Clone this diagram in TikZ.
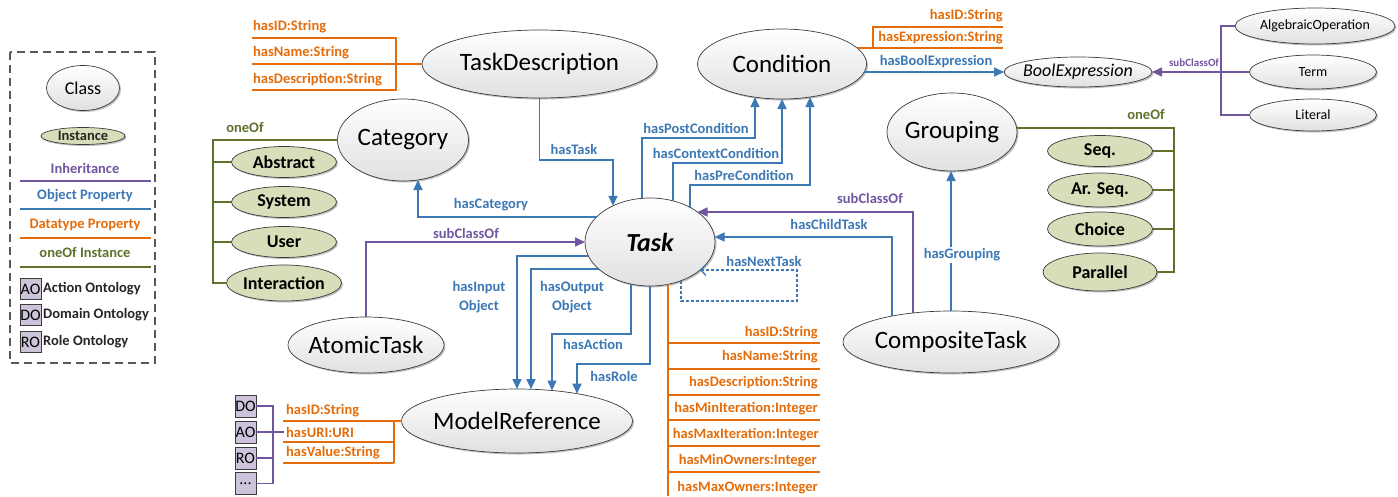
\documentclass[tikz,border=0pt]{standalone}
\usepackage{fontspec}
\setmainfont{Carlito}
\usetikzlibrary{shapes.geometric,arrows.meta,calc,shadows}
\definecolor{cBlue}{RGB}{60,120,180}
\definecolor{cOrange}{RGB}{228,108,10}
\definecolor{cPurple}{RGB}{112,86,158}
\definecolor{cGreen}{RGB}{94,114,44}
\definecolor{cInst}{RGB}{215,223,186}
\definecolor{cBox}{RGB}{205,196,220}
\definecolor{cEdge}{RGB}{60,60,60}
\tikzset{
  shad/.style={drop shadow={shadow xshift=1.5pt,shadow yshift=-1.5pt,opacity=0.25,fill=black}},
  cls/.style={ellipse, draw=cEdge, line width=0.7pt, inner sep=0pt, outer sep=0pt, top color=white, bottom color=black!12, shad},
  inst/.style={ellipse, draw=cEdge, line width=0.7pt, inner sep=0pt, outer sep=0pt, fill=cInst, shad},
  clsf/.style={font=\fontsize{25}{28}\selectfont},
  smf/.style={font=\fontsize{14}{16}\selectfont},
  instf/.style={font=\bfseries\fontsize{18}{20}\selectfont},
  bl/.style={font=\bfseries\fontsize{14.5}{19}\selectfont, inner sep=0pt, align=center},
  lblB/.style={bl, text=cBlue},
  lblP/.style={bl, text=cPurple},
  lblO/.style={bl, text=cOrange},
  lblG/.style={bl, text=cGreen},
  obj/.style={draw=cBlue, line width=1.6pt, -{Triangle[length=10pt,width=9pt]}},
  inh/.style={draw=cPurple, line width=1.6pt, -{Triangle[length=10pt,width=9pt]}},
  dtp/.style={draw=cOrange, line width=1.2pt},
  oneof/.style={draw=cGreen, line width=1.6pt},
  onto/.style={draw=cPurple, line width=1.6pt},
  obox/.style={draw=cEdge, line width=0.7pt, fill=cBox, minimum width=21pt, minimum height=21pt, inner sep=0pt, font=\fontsize{16}{17}\selectfont},
}
\begin{document}
\begin{tikzpicture}[x=1pt,y=-1pt]
\useasboundingbox (0,0) rectangle (1398,496);
% ---------------- legend
\draw[draw=black!65, line width=1.3pt, dash pattern=on 8pt off 5pt] (10,52) rectangle (155,363);
\node[cls, minimum width=73pt, minimum height=45pt, label={[font=\fontsize{18}{20}\selectfont]center:Class}] (lgClass) at (83,88) {};
\node[inst, minimum width=84pt, minimum height=17pt, label={[bl, text=black!85]center:Instance}] (lgInst) at (83,136) {};
\node[lblP] (lgInh) at (85,168) {Inheritance};
\node[lblB] (lgObj) at (85,196) {Object Property};
\node[lblO] (lgDtp) at (85,225) {Datatype Property};
\node[lblG] (lgOne) at (85,253) {oneOf Instance};
\draw[cPurple, line width=1.2pt] (20,181) -- (151,181);
\draw[cBlue, line width=1.2pt] (20,209) -- (151,209);
\draw[cOrange, line width=1.2pt] (20,238) -- (151,238);
\draw[cGreen, line width=1.2pt] (20,267) -- (151,267);
\node[obox] (lgAO) at (30.5,289) {AO};
\node[obox] (lgDO) at (30.5,315) {DO};
\node[obox] (lgRO) at (30.5,342) {RO};
\node[bl, anchor=west, text=black!85] (lgAOt) at (43,289) {Action Ontology};
\node[bl, anchor=west, text=black!85] (lgDOt) at (43,315) {Domain Ontology};
\node[bl, anchor=west, text=black!85] (lgROt) at (43,342) {Role Ontology};
% ---------------- classes
\node[cls, minimum width=235pt, minimum height=68pt, label={[clsf]center:TaskDescription}] (TD) at (539.5,64) {};
\node[cls, minimum width=131pt, minimum height=82pt, label={[clsf]center:Category}] (Cat) at (403,140) {};
\node[cls, minimum width=130pt, minimum height=88pt, label={[font=\bfseries\itshape\fontsize{26}{28}\selectfont]center:Task}] (Task) at (650,242) {};
\node[cls, minimum width=169pt, minimum height=70pt, label={[clsf]center:Condition}] (Cond) at (782,64) {};
\node[cls, minimum width=148pt, minimum height=30pt, label={[font=\itshape\fontsize{18}{20}\selectfont]center:BoolExpression}] (Bool) at (1078,72) {};
\node[cls, minimum width=160pt, minimum height=36pt, label={[smf]center:AlgebraicOperation}] (Alg) at (1315,26) {};
\node[cls, minimum width=127pt, minimum height=34pt, label={[smf]center:Term}] (Term) at (1313,72) {};
\node[cls, minimum width=127pt, minimum height=32pt, label={[smf]center:Literal}] (Lit) at (1313,115) {};
\node[cls, minimum width=130pt, minimum height=78pt, label={[clsf]center:Grouping}] (Grp) at (952,132) {};
\node[cls, minimum width=156pt, minimum height=56pt, label={[clsf]center:AtomicTask}] (Atom) at (366,345) {};
\node[cls, minimum width=216pt, minimum height=62pt, label={[clsf]center:CompositeTask}] (Comp) at (951,342) {};
\node[cls, minimum width=231pt, minimum height=64pt, label={[clsf]center:ModelReference}] (MR) at (517,421) {};
% ---------------- instances
\node[inst, minimum width=105pt, minimum height=31pt, label={[instf]center:Abstract}] (Abs) at (284,162) {};
\node[inst, minimum width=105pt, minimum height=31pt, label={[instf]center:System}] (Sys) at (284,202) {};
\node[inst, minimum width=105pt, minimum height=31pt, label={[instf]center:User}] (Usr) at (284,242) {};
\node[inst, minimum width=115pt, minimum height=36pt, label={[instf]center:Interaction}] (Int) at (284,283) {};
\node[inst, minimum width=105pt, minimum height=31pt, label={[instf]center:Seq.}] (Seq) at (1100,151) {};
\node[inst, minimum width=105pt, minimum height=34pt, label={[instf]center:Ar. Seq.}] (ArS) at (1100,190) {};
\node[inst, minimum width=105pt, minimum height=34pt, label={[instf]center:Choice}] (Cho) at (1100,229) {};
\node[inst, minimum width=114pt, minimum height=38pt, label={[instf]center:Parallel}] (Par) at (1100,272) {};
% ---------------- ontology boxes
\node[obox, minimum height=22pt] (bDO) at (245.5,406) {DO};
\node[obox, minimum height=22pt] (bAO) at (245.5,432) {AO};
\node[obox, minimum height=22pt] (bRO) at (245.5,458) {RO};
\node[obox, minimum height=22pt] (bEt) at (245.5,483.5) {...};
\draw[onto] (bDO.east) -- (273,406) -- (273,483.5) -- (bEt.east);
\draw[onto] (bRO.east) -- (273,458);
\draw[onto] (bAO.east) -- (284,432);
% ---------------- datatype properties
\draw[dtp] (TD.west) -- (252,64);
\draw[dtp] (252,38) -- (396,38) -- (396,90) -- (252,90);
\node[lblO, anchor=west] (tdId) at (253,27) {hasID:String};
\node[lblO, anchor=west] (tdNm) at (253,53) {hasName:String};
\node[lblO, anchor=west] (tdDs) at (253,80) {hasDescription:String};

\draw[dtp] ($(Cond.center)+(75,-16)$) -- (1003,48);
\draw[dtp] (1003,27) -- (873,27) -- (873,48);
\node[lblO, anchor=east] (cdId) at (1003,16) {hasID:String};
\node[lblO, anchor=east] (cdEx) at (1003,38) {hasExpression:String};

\draw[dtp] (MR.west) -- (283,421);
\draw[dtp] (283,442) -- (394,442);
\draw[dtp] (283,463) -- (394,463);
\draw[dtp] (394,421) -- (394,463);
\node[lblO, anchor=west] (mrId) at (286,411) {hasID:String};
\node[lblO, anchor=west] (mrUri) at (286,432) {hasURI:URI};
\node[lblO, anchor=west] (mrVal) at (286,453) {hasValue:String};

\draw[dtp] ($(Task.center)+(18,42.3)$) -- (668,496);
\foreach \yy in {343,369,395,420,446,472} \draw[dtp] (668,\yy) -- (820,\yy);
\node[lblO, anchor=east] (tp1) at (818,333) {hasID:String};
\node[lblO, anchor=east] (tp2) at (818,357) {hasName:String};
\node[lblO, anchor=east] (tp3) at (818,383) {hasDescription:String};
\node[lblO, anchor=east] (tp4) at (818,409) {hasMinIteration:Integer};
\node[lblO, anchor=east] (tp5) at (819,435) {hasMaxIteration:Integer};
\node[lblO, anchor=east] (tp6) at (817,461) {hasMinOwners:Integer};
\node[lblO, anchor=east] (tp7) at (818,488) {hasMaxOwners:Integer};
% ---------------- oneOf
\draw[oneof] (Cat.west) -- (213,140) -- (213,283) -- (Int.west);
\draw[oneof] (Abs.west) -- (213,162);
\draw[oneof] (Sys.west) -- (213,202);
\draw[oneof] (Usr.west) -- (213,242);
\node[lblG] (lbOne1) at (245,128) {oneOf};
\draw[oneof] ($(Grp.center)+(64.8,-4)$) -- (1174,128) -- (1174,272) -- (Par.east);
\draw[oneof] (Seq.east) -- (1174,151);
\draw[oneof] (ArS.east) -- (1174,190);
\draw[oneof] (Cho.east) -- (1174,229);
\node[lblG] (lbOne2) at (1146,115) {oneOf};
% ---------------- BoolExpression subclasses
\draw[onto] (Alg.west) -- (1221,26) -- (1221,115) -- (Lit.west);
\draw[onto] (Term.west) -- (1221,72);
\draw[inh] (1221,72) -- (Bool.east);
\node[lblP, font=\bfseries\fontsize{11}{12}\selectfont] (lbSub3) at (1194,63) {subClassOf};
\draw[obj] ($(Cond.center)+(82,8)$) -- (Bool.west);
\node[lblB] (lbBool) at (936,62) {hasBoolExpression};
% ---------------- object properties
\draw[obj] (TD.south) -- (539.5,160) -- (613,160) -- ($(Task.center)+(-37,-36.2)$);
\node[lblB] (lbTask) at (574,149) {hasTask};
\draw[obj] ($(Task.center)+(-53.5,-25)$) -- (418,217) -- ($(Cat.center)+(15,40)$);
\node[lblB] (lbCat) at (491,205) {hasCategory};
\draw[inh] (Atom.north) -- (366,242) -- (Task.west);
\node[lblP] (lbSub1) at (466,233) {subClassOf};
\draw[obj] ($(Task.center)+(-61.6,14)$) -- (517,256) -- (MR.north);
\draw[obj] ($(Task.center)+(-51.3,27)$) -- (531,269) -- ($(MR.center)+(14,-31.8)$);
\draw[obj] ($(Task.center)+(-19,42)$) -- (631,334) -- (552,334) -- ($(MR.center)+(35,-30.5)$);
\draw[obj] (Task.south) -- (650,364) -- (577,364) -- ($(MR.center)+(60,-27.3)$);
\node[lblB] (lbIn) at (479,297) {hasInput\\Object};
\node[lblB] (lbOut) at (572,297) {hasOutput\\Object};
\node[lblB] (lbAct) at (593,344) {hasAction};
\node[lblB] (lbRole) at (614,376) {hasRole};
\draw[draw=cBlue, line width=1.3pt, dash pattern=on 3pt off 2pt, -{Straight Barb[length=5pt,width=11pt]}] ($(Task.center)+(31,38.7)$) -- (681,301) -- (797,301) -- (797,270) -- ($(Task.center)+(50,28)$);
\node[lblB] (lbNext) at (764,261) {hasNextTask};
\draw[obj] ($(Task.center)+(-8,-43.7)$) -- (642,138) -- (755,138) -- ($(Cond.center)+(-27,33.2)$);
\draw[obj] ($(Task.center)+(23,-41.2)$) -- (673,163) -- (782,163) -- (Cond.south);
\draw[obj] ($(Task.center)+(40,-34.7)$) -- (690,185) -- (810,185) -- ($(Cond.center)+(28,33.1)$);
\node[lblB] (lbPost) at (696,128) {hasPostCondition};
\node[lblB] (lbCtx) at (716,153) {hasContextCondition};
\node[lblB] (lbPre) at (744,175) {hasPreCondition};
\draw[inh] ($(Comp.center)+(-38,-29)$) -- (913,212) -- ($(Task.center)+(47.5,-30)$);
\node[lblP] (lbSub2) at (870,198) {subClassOf};
\draw[obj] ($(Comp.center)+(-59,-26)$) -- (892,237) -- ($(Task.center)+(64.6,-5)$);
\node[lblB] (lbChild) at (829,224) {hasChildTask};
\draw[obj] (Comp.north) -- (Comp.north |- Grp.south);
\node[lblB, fill=white, inner sep=2pt] (lbGrp) at (962,255) {hasGrouping};
\end{tikzpicture}
\end{document}
